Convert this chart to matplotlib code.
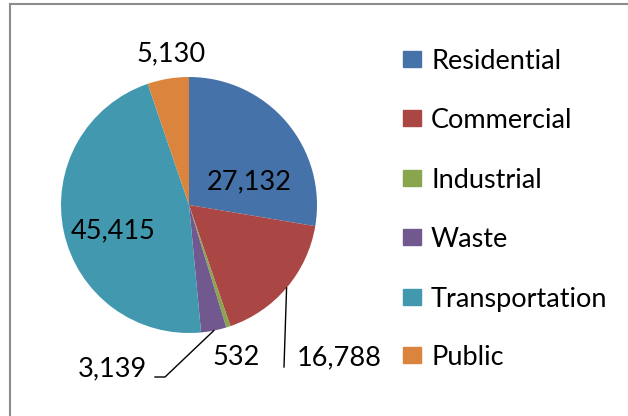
import matplotlib.pyplot as plt
from matplotlib.lines import Line2D
import numpy as np

# Data
sectors = ["Residential", "Commercial", "Industrial", "Waste", "Transportation", "Public"]
values = [27132, 16788, 532, 3139, 45415, 5130]
value_labels = ["27,132", "16,788", "532", "3,139", "45,415", "5,130"]
colors = ["#4672AA", "#AA4644", "#89A54E", "#71588F", "#4198AF", "#DB843D"]

plt.rcParams["font.family"] = ["Lato", "DejaVu Sans"]

W, H = 628, 416
fig = plt.figure(figsize=(W / 100, H / 100), dpi=100)

# pie circle in pixels: centre (189, 205), radius 128
cx, cy, r = 189, 205, 128
ax = fig.add_axes([(cx - r) / W, (H - cy - r) / H, 2 * r / W, 2 * r / H])
wedges, _ = ax.pie(values, colors=colors, startangle=90, counterclock=False,
                   radius=1, wedgeprops=dict(linewidth=0))
ax.set_xlim(-1, 1)
ax.set_ylim(-1, 1)
ax.set_aspect("equal")
ax.axis("off")


def px(x, y):
    return (x - cx) / r, (cy - y) / r


# label positions (pixels)
label_pos = [(249, 179), (339, 355), (236, 355), (112, 366), (113, 228), (171, 51)]
for lab, (x, y) in zip(value_labels, label_pos):
    dx, dy = px(x, y)
    ax.text(dx, dy, lab, fontsize=19.5, ha="center", va="center_baseline", clip_on=False)

# leader lines from wedge midpoints
def mid_edge(i):
    w = wedges[i]
    a = np.deg2rad((w.theta1 + w.theta2) / 2)
    return np.cos(a), np.sin(a)

sx, sy = mid_edge(1)
ex, ey = px(284, 367)
ax.plot([sx, ex], [sy, ey], color="black", lw=1, clip_on=False)

sx, sy = mid_edge(3)
ex, ey = px(165, 377)
fx, fy = px(155, 377)
ax.plot([sx, ex, fx], [sy, ey, fy], color="black", lw=1, clip_on=False)

# legend
leg_y = [59, 118, 178, 237, 297, 355]
for name, col, y in zip(sectors, colors, leg_y):
    fig.patches.append(plt.Rectangle((403 / W, (H - y - 8) / H), 18 / W, 16 / H,
                                     color=col, transform=fig.transFigure))
    fig.text(431 / W, (H - y) / H, name, fontsize=19.5, va="center_baseline", ha="left")

# chart border (top and left visible)
fig.lines.append(Line2D([10 / W, 1], [1 - 4 / H, 1 - 4 / H], color="#8C8C8C", lw=1.5,
                        transform=fig.transFigure))
fig.lines.append(Line2D([10 / W, 10 / W], [0, 1 - 4 / H], color="#8C8C8C", lw=1.5,
                        transform=fig.transFigure))

plt.savefig("out.png", dpi=100)
